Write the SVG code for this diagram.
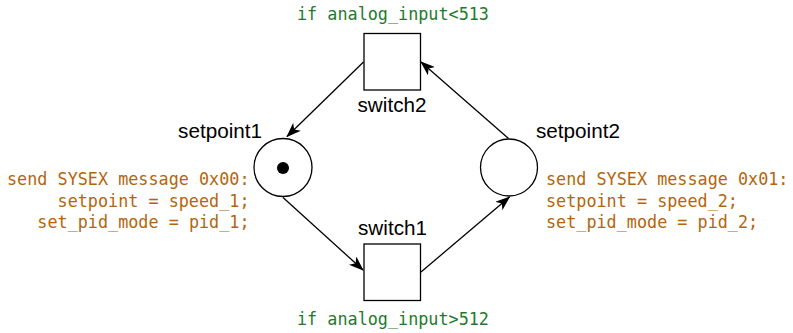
<svg xmlns="http://www.w3.org/2000/svg" width="793" height="333" viewBox="0 0 793 333">
<style>
.shape{fill:#fff;stroke:#000;stroke-width:1.3}
.lbl{font-family:"Liberation Sans",Arial,sans-serif;font-size:20.7px;fill:#000}
.code{font-family:"DejaVu Sans Mono","Liberation Mono",monospace;font-size:16.8px}
.act{fill:#b4650c}
.cond{fill:#1f7a2c}
.edge{fill:none;stroke:#000;stroke-width:1.3;marker-end:url(#arr)}
</style>
<defs>
<marker id="arr" viewBox="0 0 15 11" refX="14" refY="5.5" markerWidth="15" markerHeight="11" orient="auto" markerUnits="userSpaceOnUse">
<path d="M0,0 L15,5.5 L0,11 L4,5.5 Z" fill="#000"/>
</marker>
</defs>
<rect width="793" height="333" fill="#fff"/>
<g id="connectors">
<path class="edge" d="M363.5,62 L287,136.5"/>
<path class="edge" d="M283,197.5 L363,270"/>
<path class="edge" d="M421,272 L509.5,197"/>
<path class="edge" d="M508.5,138.5 L421,62"/>
</g>
<g id="setpoint1">
<circle class="shape" cx="283" cy="167.5" r="29"/>
<circle cx="283" cy="168" r="6" fill="#000"/>
<text class="lbl" x="262" y="138" text-anchor="end">setpoint1</text>
<text class="code act" text-anchor="end"><tspan x="249.5" y="185">send SYSEX message 0x00:</tspan><tspan x="249.5" y="206.7">setpoint = speed_1;</tspan><tspan x="249.5" y="228.3">set_pid_mode = pid_1;</tspan></text>
</g>
<g id="setpoint2">
<circle class="shape" cx="509" cy="167.5" r="28.5"/>
<text class="lbl" x="536" y="138">setpoint2</text>
<text class="code act"><tspan x="546" y="185">send SYSEX message 0x01:</tspan><tspan x="546" y="206.7">setpoint = speed_2;</tspan><tspan x="546" y="228.3">set_pid_mode = pid_2;</tspan></text>
</g>
<g id="switch2">
<rect class="shape" x="364" y="33.5" width="56.5" height="56.5"/>
<text class="lbl" x="392" y="111.5" text-anchor="middle">switch2</text>
<text class="code cond" x="393" y="19.5" text-anchor="middle">if analog_input&lt;513</text>
</g>
<g id="switch1">
<rect class="shape" x="364" y="244" width="56.5" height="56.5"/>
<text class="lbl" x="392.5" y="235" text-anchor="middle">switch1</text>
<text class="code cond" x="393" y="325" text-anchor="middle">if analog_input&gt;512</text>
</g>
</svg>
